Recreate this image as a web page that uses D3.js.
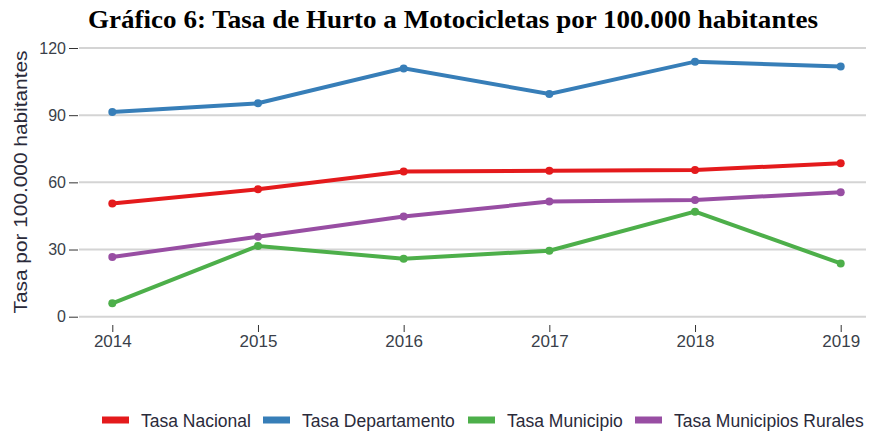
<!DOCTYPE html>
<html>
<head>
<meta charset="utf-8">
<script src="https://cdn.jsdelivr.net/npm/d3@7"></script>
<style>
  body { margin: 0; background: #fff; }
  svg { display: block; }
</style>
</head>
<body>
<div id="chart"></div>
<script>
var years = [2014, 2015, 2016, 2017, 2018, 2019];
var yTicks = [0, 30, 60, 90, 120];
var seriesNames = ["Tasa Nacional", "Tasa Departamento", "Tasa Municipio", "Tasa Municipios Rurales"];
var seriesColors = ["#e41a1c", "#377eb8", "#4daf4a", "#984ea3"];

var tasaNacional = [50.6, 56.9, 64.8, 65.2, 65.5, 68.5];
var tasaDepartamento = [91.4, 95.3, 110.9, 99.5, 113.9, 111.7];
var tasaMunicipio = [6.0, 31.6, 25.9, 29.5, 46.9, 23.8];
var tasaRurales = [26.7, 35.7, 44.7, 51.4, 52.1, 55.6];

var width = 870, height = 431;
var sans = "Liberation Sans, Arial, sans-serif";

var svg = d3.select("div#chart").append("svg")
    .attr("width", width)
    .attr("height", height);

// titulo
svg.append("text")
    .attr("x", 453)
    .attr("y", 28)
    .attr("text-anchor", "middle")
    .attr("font-family", "Liberation Serif, serif")
    .attr("font-weight", "bold")
    .attr("font-size", 25)
    .attr("textLength", 730)
    .attr("lengthAdjust", "spacingAndGlyphs")
    .text("Gráfico 6: Tasa de Hurto a Motocicletas por 100.000 habitantes");

var xScale = d3.scalePoint()
    .domain(years)
    .range([112.3, 840.7]);

var yScale = d3.scaleLinear()
    .domain([0, 120])
    .range([316.7, 48]);

// grid
svg.selectAll("line.grid")
    .data(yTicks)
    .enter()
    .append("line")
    .attr("class", "grid")
    .attr("x1", 79)
    .attr("x2", 866)
    .attr("y1", function(d){ return yScale(d); })
    .attr("y2", function(d){ return yScale(d); })
    .attr("stroke", "#d4d4d4")
    .attr("stroke-width", 2);

var yAxis = svg.append("g")
    .attr("transform", "translate(78,0)")
    .call(d3.axisLeft(yScale).tickValues(yTicks).tickSize(9).tickPadding(3));
yAxis.select(".domain").remove();
yAxis.selectAll("line").attr("stroke", "#333");
yAxis.selectAll("text")
    .attr("font-family", sans)
    .attr("font-size", 16)
    .attr("fill", "#3a3f4a");

var xAxis = svg.append("g")
    .attr("transform", "translate(0,325)")
    .call(d3.axisBottom(xScale).tickSize(7).tickPadding(3));
xAxis.select(".domain").remove();
xAxis.selectAll("line").attr("stroke", "#333");
xAxis.selectAll("text")
    .attr("font-family", sans)
    .attr("font-size", 17)
    .attr("fill", "#3a3f4a");

svg.append("text")
    .attr("transform", "translate(27,182) rotate(-90)")
    .attr("text-anchor", "middle")
    .attr("font-family", sans)
    .attr("font-size", 19)
    .attr("textLength", 263)
    .attr("lengthAdjust", "spacingAndGlyphs")
    .attr("fill", "#2a2a3a")
    .text("Tasa por 100.000 habitantes");

var series = [tasaNacional, tasaDepartamento, tasaMunicipio, tasaRurales].map(function(v, i){
    return { name: seriesNames[i], color: seriesColors[i], values: v };
});

var line = d3.line()
    .x(function(d, i){ return xScale(years[i]); })
    .y(function(d){ return yScale(d); });

var groups = svg.selectAll("g.serie")
    .data(series)
    .enter()
    .append("g")
    .attr("class", "serie");

groups.append("path")
    .attr("d", function(d){ return line(d.values); })
    .attr("fill", "none")
    .attr("stroke", function(d){ return d.color; })
    .attr("stroke-width", 4);

groups.selectAll("circle")
    .data(function(d){ return d.values.map(function(v){ return { v: v, color: d.color }; }); })
    .enter()
    .append("circle")
    .attr("cx", function(d, i){ return xScale(years[i]); })
    .attr("cy", function(d){ return yScale(d.v); })
    .attr("r", 4)
    .attr("fill", function(d){ return d.color; });

// leyenda
var legendX = [102, 263, 468, 635];
var legend = svg.selectAll("g.legend")
    .data(series)
    .enter()
    .append("g")
    .attr("class", "legend")
    .attr("transform", function(d, i){ return "translate(" + legendX[i] + ",420)"; });

legend.append("rect")
    .attr("x", 0)
    .attr("y", -3.5)
    .attr("width", 27)
    .attr("height", 7)
    .attr("fill", function(d){ return d.color; });

legend.append("text")
    .attr("x", 39)
    .attr("y", 6.5)
    .attr("font-family", sans)
    .attr("font-size", 17.5)
    .attr("fill", "#2a2a3a")
    .text(function(d){ return d.name; });
</script>
</body>
</html>
